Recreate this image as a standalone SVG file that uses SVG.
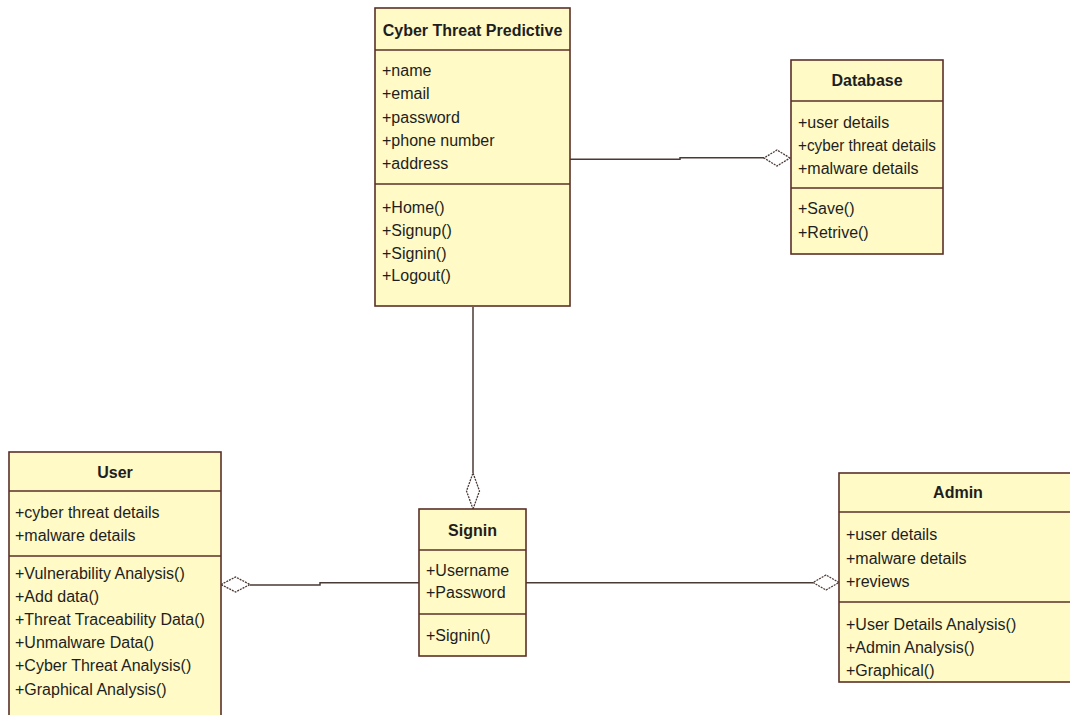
<svg xmlns="http://www.w3.org/2000/svg" width="1070" height="715" viewBox="0 0 1070 715">
  <style>
    .box { fill: #fffac6; stroke: #5a3028; stroke-width: 1.6; }
    .sep { stroke: #5a3028; stroke-width: 1.6; fill: none; }
    .t { font-family: "Liberation Sans", Arial, sans-serif; font-size: 16px; fill: #1e1e1e; }
    .title { font-family: "Liberation Sans", Arial, sans-serif; font-size: 16px; font-weight: bold; fill: #1e1e1e; text-anchor: middle; }
    .link { stroke: #4a3a36; stroke-width: 1.5; fill: none; }
    .agg { fill: #ffffff; stroke: #4a3a36; stroke-width: 1.3; stroke-dasharray: 2 1; }
  </style>
  <rect width="1070" height="715" fill="#ffffff"/>

  <!-- associations (aggregation diamonds sit on the whole side) -->
  <g id="connectors">
    <polyline class="link" points="570,159.3 680,159.3 680,157.7 764,157.7"/>
    <polygon class="agg" points="790,158 777,150 764,158 777,166"/>

    <line class="link" x1="473" y1="307" x2="473" y2="473"/>
    <polygon class="agg" points="473,509 479.5,491 473,473 466.5,491"/>

    <polyline class="link" points="419,582.7 320,582.7 320,585 250,585"/>
    <polygon class="agg" points="221,584.5 235.5,577 250,584.5 235.5,592"/>

    <line class="link" x1="526" y1="582.7" x2="813" y2="582.7"/>
    <polygon class="agg" points="839,582.5 826,575 813,582.5 826,590"/>
  </g>

  <g id="cyber-threat-predictive">
    <rect class="box" x="375" y="8" width="195" height="298"/>
    <line class="sep" x1="375" y1="50" x2="570" y2="50"/>
    <line class="sep" x1="375" y1="184" x2="570" y2="184"/>
    <text class="title" x="472.5" y="36">Cyber Threat Predictive</text>
    <text class="t" x="382" y="76">+name</text>
    <text class="t" x="382" y="99.3">+email</text>
    <text class="t" x="382" y="122.7">+password</text>
    <text class="t" x="382" y="146">+phone number</text>
    <text class="t" x="382" y="169.3">+address</text>
    <text class="t" x="382" y="213">+Home()</text>
    <text class="t" x="382" y="236">+Signup()</text>
    <text class="t" x="382" y="258.5">+Signin()</text>
    <text class="t" x="382" y="281">+Logout()</text>
  </g>

  <g id="database">
    <rect class="box" x="791" y="60" width="152" height="194"/>
    <line class="sep" x1="791" y1="101" x2="943" y2="101"/>
    <line class="sep" x1="791" y1="188" x2="943" y2="188"/>
    <text class="title" x="867" y="86">Database</text>
    <text class="t" x="798" y="128">+user details</text>
    <text class="t" x="798" y="151" textLength="138" lengthAdjust="spacingAndGlyphs">+cyber threat details</text>
    <text class="t" x="798" y="174">+malware details</text>
    <text class="t" x="798" y="214">+Save()</text>
    <text class="t" x="798" y="238">+Retrive()</text>
  </g>

  <g id="user">
    <rect class="box" x="9" y="452" width="212" height="275"/>
    <line class="sep" x1="9" y1="491" x2="221" y2="491"/>
    <line class="sep" x1="9" y1="556" x2="221" y2="556"/>
    <text class="title" x="115" y="478">User</text>
    <text class="t" x="15" y="518">+cyber threat details</text>
    <text class="t" x="15" y="541">+malware details</text>
    <text class="t" x="15" y="579">+Vulnerability Analysis()</text>
    <text class="t" x="15" y="601.5">+Add data()</text>
    <text class="t" x="15" y="624.5">+Threat Traceability Data()</text>
    <text class="t" x="15" y="648">+Unmalware Data()</text>
    <text class="t" x="15" y="671">+Cyber Threat Analysis()</text>
    <text class="t" x="15" y="694.5">+Graphical Analysis()</text>
  </g>

  <g id="signin">
    <rect class="box" x="419" y="509" width="107" height="147"/>
    <line class="sep" x1="419" y1="550" x2="526" y2="550"/>
    <line class="sep" x1="419" y1="614" x2="526" y2="614"/>
    <text class="title" x="472.5" y="536">Signin</text>
    <text class="t" x="426" y="576">+Username</text>
    <text class="t" x="426" y="598">+Password</text>
    <text class="t" x="426" y="641">+Signin()</text>
  </g>

  <g id="admin">
    <rect class="box" x="839" y="473" width="237" height="209"/>
    <line class="sep" x1="839" y1="512" x2="1076" y2="512"/>
    <line class="sep" x1="839" y1="602" x2="1076" y2="602"/>
    <text class="title" x="958" y="498">Admin</text>
    <text class="t" x="846" y="540">+user details</text>
    <text class="t" x="846" y="563.5">+malware details</text>
    <text class="t" x="846" y="587">+reviews</text>
    <text class="t" x="846" y="629.5">+User Details Analysis()</text>
    <text class="t" x="846" y="653">+Admin Analysis()</text>
    <text class="t" x="846" y="676">+Graphical()</text>
  </g>
</svg>
